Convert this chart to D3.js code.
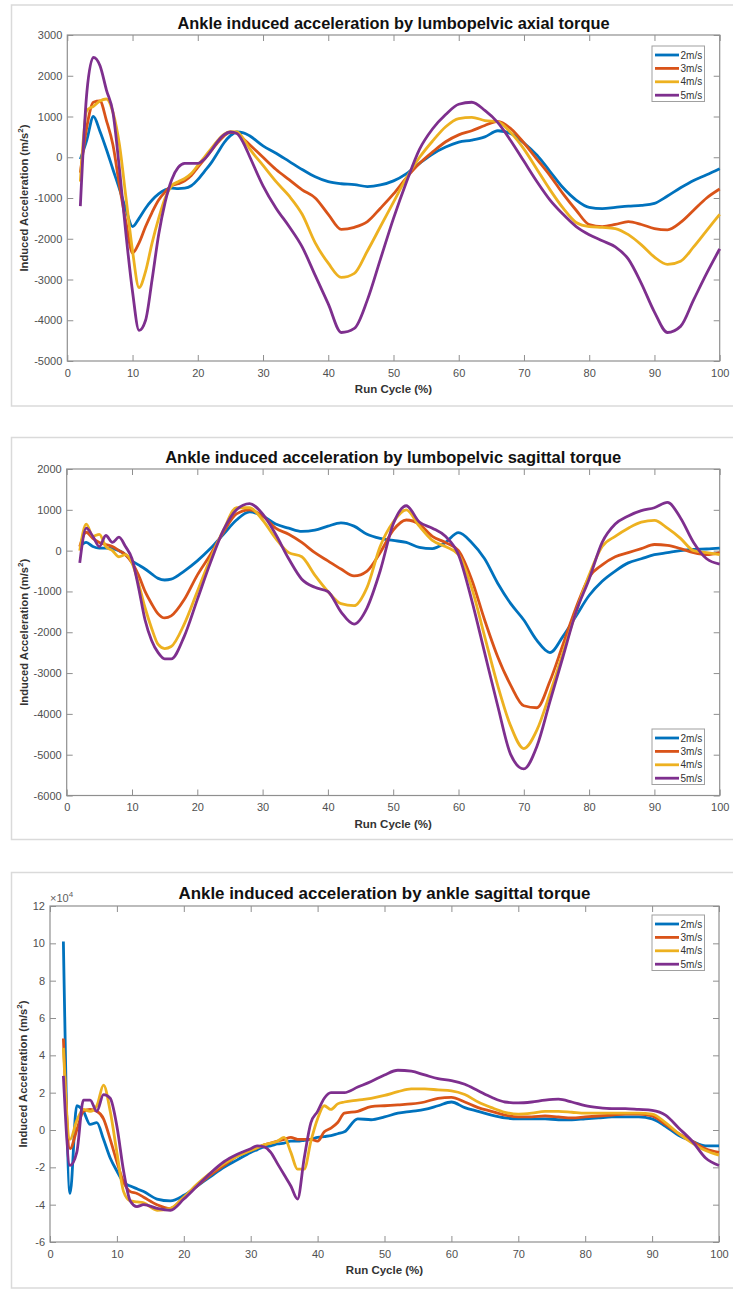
<!DOCTYPE html>
<html>
<head>
<meta charset="utf-8">
<script src="https://cdn.jsdelivr.net/npm/d3@7"></script>
<style>
  body { margin: 0; background: #fff; }
  svg { display: block; font-family: "Liberation Sans", Arial, Helvetica, sans-serif; }
</style>
</head>
<body>
<svg id="chart"></svg>
<script>
const width = 733;
const height = 1314;

const speeds = ['2m/s', '3m/s', '4m/s', '5m/s'];
const colors = ['#0072BD', '#D95319', '#EDB120', '#7E2F8E'];
const xTicks = [0, 10, 20, 30, 40, 50, 60, 70, 80, 90, 100];

// --- panel 1: lumbopelvic axial torque ---
const axialCycle = [2, 3, 4, 5, 6, 7, 8, 9, 10, 11, 12, 13, 14, 15, 16, 17, 18, 19, 20, 21, 22, 23, 24, 25, 26, 27,
    28, 30, 32, 34, 36, 38, 40, 42, 44, 46, 48, 50, 52, 54, 56, 58, 60, 62, 64, 66, 68, 70, 72, 74, 76, 78,
    80, 82, 84, 86, 88, 90, 92, 94, 96, 98, 100];
const axial2 = [-50, 430, 1000, 640, 190, -300, -780, -1290, -1700, -1500, -1250, -1050, -900, -800, -760, -770, -760, -700, -550, -350, -150, 100, 350, 530, 620, 600,
    520, 280, 100, -100, -300, -480, -600, -650, -670, -720, -680, -580, -400, -150, 80, 250, 370, 420, 500, 650, 580, 350, 50, -350, -750, -1050,
    -1230, -1260, -1230, -1200, -1180, -1130, -950, -750, -570, -430, -280];
const axial3 = [-380, 750, 1350, 1380, 900, 300, -700, -1600, -2350, -2100, -1700, -1350, -1050, -850, -700, -650, -580, -450, -250, -50, 150, 350, 520, 610, 600, 450,
    300, 0, -300, -550, -800, -1000, -1400, -1770, -1720, -1580, -1250, -900, -500, -150, 130, 380, 550, 650, 780, 880, 700, 350, -50, -450, -900, -1300,
    -1650, -1700, -1650, -1580, -1650, -1750, -1780, -1600, -1300, -1000, -780];
const axial4 = [-600, 1150, 1250, 1380, 1430, 1100, 300, -1000, -2300, -3200, -2800, -2100, -1500, -1000, -700, -600, -520, -400, -200, 0, 200, 400, 560, 630, 620, 450,
    200, -200, -600, -950, -1400, -2100, -2600, -2950, -2850, -2300, -1700, -1100, -500, 0, 400, 750, 950, 980, 900, 870, 600, 200, -300, -800, -1250, -1600,
    -1700, -1720, -1750, -1900, -2150, -2450, -2630, -2550, -2200, -1800, -1400];
const axial5 = [-1200, 1600, 2450, 2250, 1650, 1100, -300, -1900, -3300, -4250, -4000, -3000, -1900, -1100, -550, -250, -150, -150, -150, -50, 150, 380, 550, 620, 580, 350,
    0, -700, -1250, -1700, -2200, -2900, -3600, -4300, -4200, -3500, -2500, -1500, -600, 200, 700, 1050, 1300, 1350, 1150, 850, 400, -100, -600, -1050, -1400, -1700,
    -1900, -2050, -2200, -2500, -3100, -3800, -4300, -4150, -3500, -2850, -2250];
const axialTicks = [-5000, -4000, -3000, -2000, -1000, 0, 1000, 2000, 3000];

// --- panel 2: lumbopelvic sagittal torque ---
const lumbarCycle = [2, 3, 4, 5, 6, 7, 8, 9, 10, 11, 12, 13, 14, 15, 16,
    18, 20, 22, 24, 26, 28, 30, 32, 34, 36, 38, 40, 42, 44, 46, 48, 50, 52, 54, 56, 58, 60,
    62, 64, 66, 68, 70, 72, 74, 76, 78, 80, 82, 84, 86, 88, 90, 92, 94, 96, 98, 100];
const lumbar2 = [100, 200, 100, 60, 60, 50, 0, -100, -250, -350, -450, -570, -680, -720, -700,
    -500, -250, 50, 400, 750, 950, 850, 650, 550, 470, 500, 600, 680, 600, 400, 300, 250, 200, 80, 50, 200, 440,
    200, -200, -800, -1300, -1700, -2200, -2500, -2100, -1600, -1100, -750, -500, -300, -200, -100, -50, 0, 30, 40, 60];
const lumbar3 = [100, 450, 300, 200, 150, 100, 0, -100, -300, -600, -1000, -1300, -1550, -1650, -1600,
    -1200, -600, -100, 450, 900, 1000, 850, 550, 400, 200, -50, -250, -450, -620, -500, -50, 500, 750, 650, 350, 200, 0,
    -700, -1700, -2600, -3300, -3800, -3850, -3200, -2300, -1400, -650, -350, -150, -50, 50, 150, 130, 50, -50, -100, -50];
const lumbar4 = [0, 650, 350, 400, 100, 0, -150, -100, -300, -800, -1400, -1900, -2300, -2400, -2350,
    -1800, -1000, -200, 500, 1050, 1050, 750, 300, -50, -150, -600, -1000, -1300, -1350, -900, 100, 700, 1000, 600, 250, 100, -100,
    -900, -2100, -3300, -4300, -4850, -4400, -3500, -2500, -1500, -600, 100, 350, 550, 700, 740, 550, 300, 0, -50, -100];
const lumbar5 = [-300, 550, 350, 100, 370, 200, 330, 100, -200, -900, -1700, -2200, -2500, -2650, -2650,
    -2100, -1200, -300, 500, 1000, 1150, 900, 400, -200, -700, -900, -1000, -1500, -1800, -1400, -500, 650, 1100, 700, 550, 350, -100,
    -1200, -2500, -3800, -5000, -5350, -4800, -3700, -2600, -1500, -700, 200, 650, 850, 980, 1050, 1180, 800, 200, -200, -330];
const lumbarTicks = [-6000, -5000, -4000, -3000, -2000, -1000, 0, 1000, 2000];

// --- panel 3: ankle sagittal torque (x10^4) ---
const ankleCycle = [2, 3, 4, 5, 6, 7, 8, 9, 10, 11, 12, 13, 14, 16, 18, 20, 22, 24, 26, 28, 30,
    31, 32, 33, 34, 35, 36, 37, 38, 39, 40, 41, 42, 43, 44,
    46, 48, 50, 52, 54, 56, 58, 60, 62, 64, 66, 68, 70, 72, 74, 76, 78, 80, 82, 84, 86, 88, 90, 92, 94, 96, 98, 100];
const ankle2 = [10.1, -3.4, 1.3, 1.0, 0.3, 0.4, -0.5, -1.5, -2.2, -2.8, -3.0, -3.15, -3.3, -3.7, -3.8, -3.5, -3.0, -2.5, -2.0, -1.6, -1.2,
    -1.05, -0.9, -0.85, -0.75, -0.7, -0.6, -0.6, -0.55, -0.5, -0.4, -0.35, -0.3, -0.2, -0.1,
    0.6, 0.55, 0.7, 0.9, 1.0, 1.1, 1.3, 1.5, 1.2, 1.0, 0.8, 0.65, 0.6, 0.6, 0.6, 0.55, 0.55, 0.6, 0.65, 0.7, 0.7, 0.7, 0.6, 0.2, -0.3, -0.6, -0.85, -0.85];
const ankle3 = [4.9, -1.0, 0.0, 1.0, 1.1, 1.0, 0.6, -0.5, -1.7, -2.8, -3.3, -3.4, -3.6, -4.0, -4.2, -3.6, -3.0, -2.4, -1.9, -1.4, -1.1,
    -0.95, -0.8, -0.7, -0.6, -0.5, -0.4, -0.5, -0.5, -0.5, -0.6, -0.1, 0.1, 0.4, 0.9,
    1.0, 1.25, 1.3, 1.35, 1.4, 1.5, 1.7, 1.75, 1.5, 1.2, 1.0, 0.8, 0.7, 0.7, 0.75, 0.7, 0.65, 0.7, 0.75, 0.8, 0.85, 0.85, 0.75, 0.3, -0.2, -0.6, -1.0, -1.2];
const ankle4 = [4.4, -0.5, 0.5, 1.1, 1.0, 1.3, 2.4, 1.0, -1.2, -3.3, -3.8, -3.85, -3.9, -4.3, -4.2, -3.6, -2.9, -2.3, -1.8, -1.4, -1.1,
    -0.95, -0.8, -0.7, -0.6, -0.4, -1.2, -2.1, -2.1, -0.6, 0.6, 1.3, 1.1, 1.4, 1.5,
    1.6, 1.7, 1.85, 2.05, 2.2, 2.2, 2.15, 2.1, 1.9, 1.5, 1.2, 0.95, 0.85, 0.9, 1.0, 1.0, 0.95, 0.9, 0.9, 0.9, 0.9, 0.9, 0.85, 0.4, -0.2, -0.7, -1.1, -1.35];
const ankle5 = [2.9, -1.9, -1.2, 1.6, 1.6, 1.0, 1.9, 1.7, 0.2, -2.2, -3.8, -4.1, -4.0, -4.2, -4.3, -3.7, -3.0, -2.3, -1.7, -1.3, -1.0,
    -0.85, -0.9, -1.2, -1.8, -2.4, -3.0, -3.7, -1.5, 0.4, 1.0, 1.7, 2.0, 2.0, 2.0,
    2.3, 2.6, 2.95, 3.2, 3.15, 2.95, 2.75, 2.65, 2.45, 2.1, 1.75, 1.5, 1.45, 1.5, 1.6, 1.65, 1.5, 1.3, 1.2, 1.15, 1.15, 1.1, 1.05, 0.8, 0.1, -0.6, -1.5, -1.9];
const ankleTicks = [-6, -4, -2, 0, 2, 4, 6, 8, 10, 12];

const panels = [
    {
        title: 'Ankle induced acceleration by lumbopelvic axial torque', titleWidth: 432,
        cycle: axialCycle, series: [axial2, axial3, axial4, axial5],
        yDomain: [-5000, 3000], yTicks: axialTicks,
        frame: [5, 406], left: 67.3, right: 719.7, top: 35, bottom: 361,
        titleY: 23.5, legendTop: 46, yLabelX: 24
    },
    {
        title: 'Ankle induced acceleration by lumbopelvic sagittal torque', titleWidth: 456,
        cycle: lumbarCycle, series: [lumbar2, lumbar3, lumbar4, lumbar5],
        yDomain: [-6000, 2000], yTicks: lumbarTicks,
        frame: [437.5, 839.5], left: 66.7, right: 719.7, top: 469, bottom: 795.5,
        titleY: 457, legendTop: 729, yLabelX: 24
    },
    {
        title: 'Ankle induced acceleration by ankle sagittal torque', titleWidth: 412,
        cycle: ankleCycle, series: [ankle2, ankle3, ankle4, ankle5],
        yDomain: [-6, 12], yTicks: ankleTicks,
        frame: [872.5, 1288], left: 50, right: 719, top: 906, bottom: 1242,
        titleY: 893, legendTop: 915, yLabelX: 22.5, exponent: 4
    }
];

const svg = d3.select('#chart')
    .attr('width', width)
    .attr('height', height);

function drawPanel(p) {
    const g = svg.append('g');

    // outer figure frame (runs off the right edge)
    g.append('rect')
        .attr('x', 11.5)
        .attr('y', p.frame[0])
        .attr('width', 740)
        .attr('height', p.frame[1] - p.frame[0])
        .attr('fill', 'none')
        .attr('stroke', '#dadada')
        .attr('stroke-width', 1.5);

    const x = d3.scaleLinear().domain([0, 100]).range([p.left, p.right]);
    const y = d3.scaleLinear().domain(p.yDomain).range([p.bottom, p.top]);
    const fmt = d => String(d);

    const axes = [
        g.append('g').attr('transform', `translate(0, ${p.bottom})`)
            .call(d3.axisBottom(x).tickValues(xTicks).tickFormat(fmt).tickSizeInner(-6).tickSizeOuter(0).tickPadding(8)),
        g.append('g').attr('transform', `translate(0, ${p.top})`)
            .call(d3.axisTop(x).tickValues(xTicks).tickFormat('').tickSizeInner(-6).tickSizeOuter(0)),
        g.append('g').attr('transform', `translate(${p.left}, 0)`)
            .call(d3.axisLeft(y).tickValues(p.yTicks).tickFormat(fmt).tickSizeInner(-6).tickSizeOuter(0).tickPadding(5)),
        g.append('g').attr('transform', `translate(${p.right}, 0)`)
            .call(d3.axisRight(y).tickValues(p.yTicks).tickFormat('').tickSizeInner(-6).tickSizeOuter(0))
    ];
    axes.forEach(a => {
        a.select('.domain').remove();
        a.selectAll('line').attr('stroke', '#8f8f8f');
        a.selectAll('text')
            .attr('fill', '#505050')
            .attr('font-size', 11)
            .attr('font-family', '"Liberation Sans", Arial, sans-serif');
    });

    // axes box
    g.append('rect')
        .attr('x', p.left)
        .attr('y', p.top)
        .attr('width', p.right - p.left)
        .attr('height', p.bottom - p.top)
        .attr('fill', 'none')
        .attr('stroke', '#8f8f8f')
        .attr('stroke-width', 1.2);

    const line = d3.line()
        .x((d, i) => x(p.cycle[i]))
        .y(d => y(d))
        .curve(d3.curveMonotoneX);

    p.series.forEach((s, i) => {
        g.append('path')
            .datum(s)
            .attr('fill', 'none')
            .attr('stroke', colors[i])
            .attr('stroke-width', 2.8)
            .attr('stroke-linejoin', 'round')
            .attr('d', line);
    });

    // title
    g.append('text')
        .attr('x', (p.left + p.right) / 2)
        .attr('y', p.titleY)
        .attr('text-anchor', 'middle')
        .attr('dominant-baseline', 'central')
        .attr('font-size', 16)
        .attr('font-weight', 'bold')
        .attr('fill', '#111')
        .attr('textLength', p.titleWidth)
        .attr('lengthAdjust', 'spacingAndGlyphs')
        .text(p.title);

    // x label
    g.append('text')
        .attr('x', (p.left + p.right) / 2)
        .attr('y', p.bottom + 28)
        .attr('text-anchor', 'middle')
        .attr('dominant-baseline', 'central')
        .attr('font-size', 11.5)
        .attr('font-weight', 'bold')
        .attr('fill', '#333')
        .text('Run Cycle (%)');

    // y label
    const yl = g.append('text')
        .attr('transform', `translate(${p.yLabelX}, ${(p.top + p.bottom) / 2}) rotate(-90)`)
        .attr('text-anchor', 'middle')
        .attr('dominant-baseline', 'central')
        .attr('font-size', 11.2)
        .attr('font-weight', 'bold')
        .attr('fill', '#333');
    yl.append('tspan').text('Induced Acceleration (m/s');
    yl.append('tspan').attr('font-size', 8).attr('dy', -4).text('2');
    yl.append('tspan').attr('dy', 4).text(')');

    if (p.exponent) {
        const ex = g.append('text')
            .attr('x', p.left)
            .attr('y', p.top - 4)
            .attr('font-size', 11)
            .attr('fill', '#606060');
        ex.append('tspan').text('\u00d710');
        ex.append('tspan').attr('font-size', 8).attr('dy', -5).text(p.exponent);
    }

    // legend
    const lg = g.append('g').attr('transform', `translate(652, ${p.legendTop})`);
    lg.append('rect')
        .attr('width', 52.5)
        .attr('height', 55.5)
        .attr('fill', '#fff')
        .attr('stroke', '#a0a0a0')
        .attr('stroke-width', 1);
    speeds.forEach((s, i) => {
        const row = 9 + i * 13.4;
        lg.append('line')
            .attr('x1', 3).attr('x2', 27)
            .attr('y1', row).attr('y2', row)
            .attr('stroke', colors[i])
            .attr('stroke-width', 2.8);
        lg.append('text')
            .attr('x', 28.5)
            .attr('y', row)
            .attr('dominant-baseline', 'central')
            .attr('font-size', 10)
            .attr('fill', '#333')
            .text(s);
    });
}

panels.forEach(drawPanel);
</script>
</body>
</html>
